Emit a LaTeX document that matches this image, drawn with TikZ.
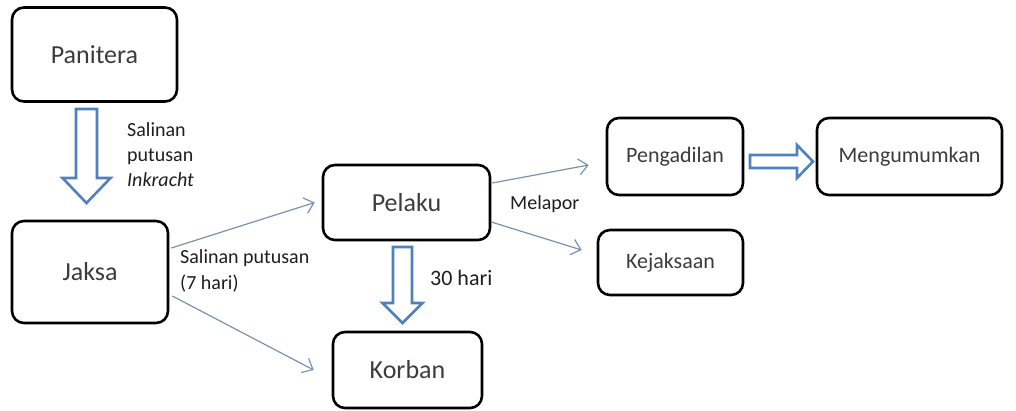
\documentclass[tikz,border=0pt]{standalone}
\usepackage{fontspec}
\setmainfont{Carlito}
\usetikzlibrary{arrows.meta,calc}
\definecolor{boxtext}{RGB}{60,60,60}
\definecolor{labtext}{RGB}{30,30,30}
\definecolor{thinblue}{RGB}{120,145,180}
\definecolor{blockblue}{RGB}{79,129,189}
\tikzset{
  box/.style={draw=black, line width=2.6pt, rounded corners=12pt, fill=white,
    text=boxtext, inner sep=0pt},
  bigtext/.style={font=\fontsize{26}{31}\selectfont},
  smalltext/.style={font=\fontsize{22}{26}\selectfont},
  lab/.style={text=labtext, inner sep=0pt, align=left},
  thinarrow/.style={draw=thinblue, line width=1.2pt,
    -{Straight Barb[length=9pt,width=16pt,line width=1.2pt]}},
  blockarrow/.style={draw=blockblue, line width=2.6pt, fill=white, line join=miter}
}
\begin{document}
\begin{tikzpicture}[x=1pt,y=-1pt]
\useasboundingbox (0,0) rectangle (1016,410);
% boxes
\node[box,bigtext,minimum width=165pt,minimum height=94pt] (pan) at (94.5,54.5) {Panitera};
\node[box,bigtext,minimum width=156pt,minimum height=102pt] (jak) at (90,272) {Jaksa};
\node[box,bigtext,minimum width=167pt,minimum height=75pt] (pel) at (406.5,202.5) {Pelaku};
\node[box,bigtext,minimum width=149pt,minimum height=76pt] (kor) at (407.5,370) {Korban};
\node[box,smalltext,minimum width=136pt,minimum height=77pt] (peng) at (675,156.5) {Pengadilan};
\node[box,smalltext,minimum width=185pt,minimum height=77pt] (meng) at (909.5,156.5) {Mengumumkan};
\node[box,smalltext,minimum width=145pt,minimum height=65pt] (kej) at (670.5,262.5) {Kejaksaan};
% block arrows
\draw[blockarrow] (76,109) -- (97,109) -- (97,178) -- (110.5,178) -- (86.5,203) -- (62.5,178) -- (76,178) -- cycle;
\draw[blockarrow] (393,247) -- (412,247) -- (412,303) -- (422.5,303) -- (402.5,323) -- (382.5,303) -- (393,303) -- cycle;
\draw[blockarrow] (750,155) -- (797,155) -- (797,145) -- (813,161.5) -- (797,178) -- (797,168) -- (750,168) -- cycle;
% thin arrows
\draw[thinarrow] ($(jak.east)+(2,-24)$) -- ($(pel.west)+(-7,0)$);
\draw[thinarrow] ($(jak.east)+(3,24)$) -- ($(kor.west)+(-18,0)$);
\draw[thinarrow] ($(pel.east)+(1,-19.5)$) -- ($(peng.west)+(-17,8.5)$);
\draw[thinarrow] ($(pel.east)+(0,19.5)$) -- ($(kej.west)+(-15,-12.5)$);
% labels
\node[lab,anchor=west,font=\fontsize{20}{25}\selectfont] (l1) at (127,155) {Salinan\\putusan\\\textit{Inkracht}};
\node[lab,anchor=west,font=\fontsize{20}{26}\selectfont] (l2) at (180,271) {Salinan putusan\\(7 hari)};
\node[lab,anchor=west,font=\fontsize{20}{24}\selectfont] (l3) at (510,204) {Melapor};
\node[lab,anchor=west,font=\fontsize{22}{26}\selectfont] (l4) at (430,278) {30 hari};
\end{tikzpicture}
\end{document}
